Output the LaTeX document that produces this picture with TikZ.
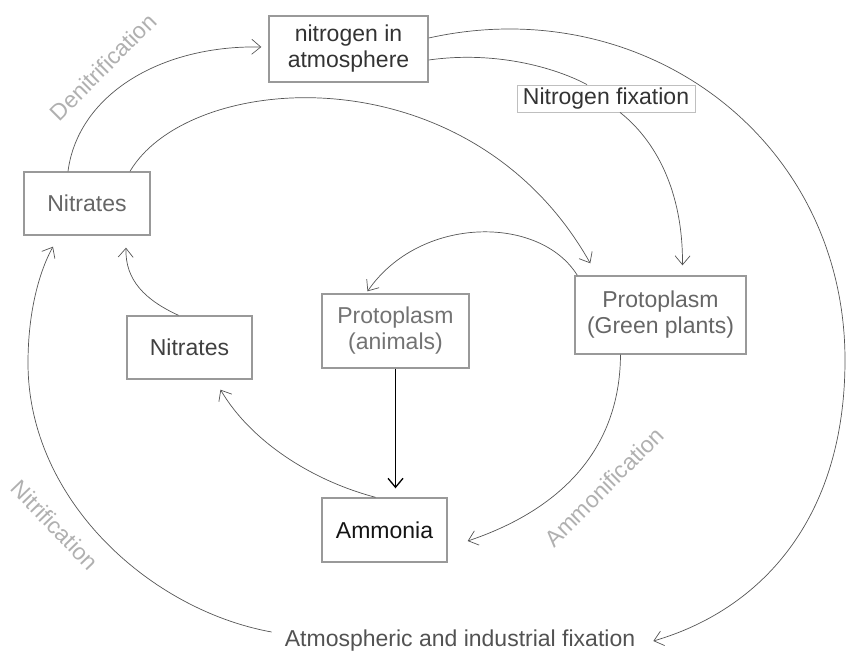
\documentclass[tikz,border=0pt]{standalone}
\usepackage{fontspec}
\setmainfont{Liberation Sans}
\usetikzlibrary{arrows.meta,calc}
\definecolor{boxc}{HTML}{999999}
\definecolor{linkc}{HTML}{555555}
\definecolor{lblc}{HTML}{B0B0B0}
\tikzset{
  box/.style={draw=boxc, line width=1.4pt, inner sep=0pt, align=center, font=\fontsize{23}{26}\selectfont},
  lbl/.style={text=lblc, font=\fontsize{23}{26}\selectfont, inner sep=0pt},
  link/.style={draw=linkc, line width=0.7pt},
  arr/.style={link, -{Straight Barb[length=9pt,width=15pt]}}
}
\begin{document}
\begin{tikzpicture}[x=1pt,y=-1pt]
\useasboundingbox (0,0) rectangle (847,654);
% nodes
\node[box, minimum width=159pt, minimum height=66pt, text=black!80] (atm) at (348.5,49) {nitrogen in\\atmosphere};
\node[box, minimum width=126pt, minimum height=63pt, text=black!60] (nt) at (87,203.5) {Nitrates};
\node[box, minimum width=125pt, minimum height=63pt, text=black!75] (nl) at (189.5,347.5) {Nitrates};
\node[box, minimum width=147pt, minimum height=74pt, text=black!55] (pa) at (395.5,331) {Protoplasm\\(animals)};
\node[box, minimum width=171pt, minimum height=78pt, text=black!60] (pg) at (660.5,315) {Protoplasm\\(Green plants)};
\node[box, minimum width=125pt, minimum height=64pt, text=black!92] (am) at (384.5,530) {Ammonia};
\node[draw=black!25, line width=0.8pt, inner sep=0pt, minimum width=178pt, minimum height=27pt, text=black!80, font=\fontsize{23}{26}\selectfont] (nf) at (606,98.5) {Nitrogen fixation};
\node[inner sep=0pt, text=black!68, font=\fontsize{23}{26}\selectfont] (af) at (460,641) {Atmospheric and industrial fixation};
% labels
\node[lbl, rotate=45] (den) at (103,67) {Denitrification};
\node[lbl, rotate=-46] (nit) at (55,525) {Nitrification};
\node[lbl, rotate=45] (amm) at (604,487) {Ammonification};
% helper coordinates
\coordinate (r) at (845,360);
\coordinate (l) at (28,363);
% connectors
\draw[arr] ([xshift=-19pt]nt.north) .. controls (78,95) and (160,45) .. ([xshift=-7pt,yshift=2pt]atm.west);
\draw[arr] ([xshift=43pt]nt.north) .. controls (190,70) and (470,50) .. ([xshift=16pt,yshift=12pt]pg.north west);
\draw[arr] ([yshift=11pt]atm.east) .. controls (644,-10) and (845,139) .. (r) .. controls (845,520) and (760,610) .. ([xshift=18pt]af.east);
\draw[link] ([yshift=-11pt]atm.east) .. controls (500,50) and (560,70) .. ([xshift=-19pt]nf.north);
\draw[arr] ([xshift=14pt]nf.south) .. controls (655,140) and (683,190) .. ([xshift=22pt,yshift=10pt]pg.north);
\draw[arr] ([xshift=3pt]pg.north west) .. controls (540,215) and (420,215) .. ([xshift=-28pt,yshift=2pt]pa.north);
\draw[-{Straight Barb[length=9pt,width=15pt]}, line width=1.3pt, black] (pa.south) -- ([yshift=9pt]pa.south |- am.north);
\draw[arr] ([xshift=-40pt]pg.south) .. controls (620,450) and (560,510) .. ([xshift=20pt,yshift=-11pt]am.east);
\draw[arr] ([xshift=-9pt]am.north) .. controls (310,480) and (250,440) .. ([xshift=31pt,yshift=-10pt]nl.south);
\draw[arr] ([xshift=-11pt]nl.north) .. controls (145,300) and (125,280) .. ([xshift=39pt,yshift=-12pt]nt.south);
\draw[arr] ([xshift=-13pt,yshift=9pt]af.west) .. controls (150,610) and (28,500) .. (l) .. controls (28,310) and (40,270) .. ([xshift=-34pt,yshift=-11pt]nt.south);
\end{tikzpicture}
\end{document}
